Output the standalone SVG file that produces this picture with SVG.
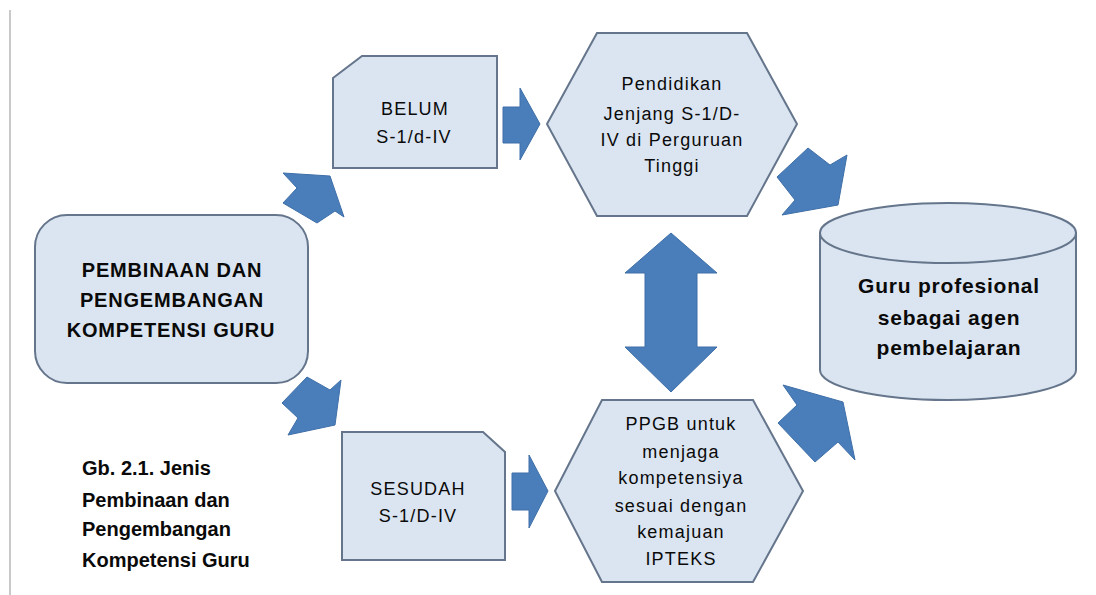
<svg xmlns="http://www.w3.org/2000/svg" width="1096" height="595" viewBox="0 0 1096 595">
  <style>
    .shape { fill: #dbe5f1; stroke: #65758b; stroke-width: 2; }
    .arrow { fill: #4a7ebb; stroke: #3f6fa8; stroke-width: 1; }
    .t { font-family: "Liberation Sans", Arial, sans-serif; fill: #0a0a0a; }
    .big { font-size: 20px; font-weight: bold; letter-spacing: 0.8px; text-anchor: middle; }
    .mid { font-size: 18px; letter-spacing: 1.2px; text-anchor: middle; }
    .box { font-size: 18px; letter-spacing: 1.2px; text-anchor: middle; }
    .cap { font-size: 20px; font-weight: bold; }
  </style>

  <rect width="1096" height="595" fill="#ffffff"/>
  <!-- page margin rule -->
  <line x1="10" y1="10" x2="10" y2="595" stroke="#c9c9c9" stroke-width="2"/>

  <g id="connectors">
    <polygon class="arrow" points="283,173 330,176 344,217 335,211 317,223 283,203 297,188"/>
    <polygon class="arrow" points="307,377 330,390 341,380 335,425 288,435 298,418 282,403"/>
    <polygon class="arrow" points="503,107 520,107 520,88 540,124 520,160 520,143 503,143"/>
    <polygon class="arrow" points="512,473 529,473 529,455 548,491 529,528 529,510 512,510"/>
    <polygon class="arrow" points="808,148 830,165 847,155 838,205 782,215 795,200 777,177"/>
    <polygon class="arrow" points="783,385 843,402 855,460 838,442 815,462 778,423 797,405"/>
    <polygon class="arrow" points="671,233 717,273 697,273 697,347 717,347 671,392 625,347 645,347 645,273 625,273"/>
  </g>

  <g id="node-pembinaan">
    <rect class="shape" x="35" y="215" width="273" height="168" rx="32" ry="32"/>
    <text class="t big" x="172" y="277">PEMBINAAN DAN</text>
    <text class="t big" x="172" y="307">PENGEMBANGAN</text>
    <text class="t big" x="171" y="337">KOMPETENSI GURU</text>
  </g>

  <g id="node-belum">
    <polygon class="shape" points="333,78 362,56 497,56 497,168 333,168"/>
    <text class="t box" x="415" y="115">BELUM</text>
    <text class="t box" x="414" y="143">S-1/d-IV</text>
  </g>

  <g id="node-sesudah">
    <polygon class="shape" points="342,432 483,432 505,452 505,560 342,560"/>
    <text class="t box" x="418" y="495">SESUDAH</text>
    <text class="t box" x="418" y="522">S-1/D-IV</text>
  </g>

  <g id="node-pendidikan">
    <polygon class="shape" points="547,124 597,33 747,33 797,124 747,216 597,216"/>
    <text class="t mid" x="672" y="90">Pendidikan</text>
    <text class="t mid" x="672" y="120">Jenjang S-1/D-</text>
    <text class="t mid" x="672" y="146">IV di Perguruan</text>
    <text class="t mid" x="672" y="172">Tinggi</text>
  </g>

  <g id="node-ppgb">
    <polygon class="shape" points="555,491 602,400 753,400 803,491 753,582 602,582"/>
    <text class="t mid" x="681" y="430">PPGB untuk</text>
    <text class="t mid" x="681" y="458">menjaga</text>
    <text class="t mid" x="681" y="484">kompetensiya</text>
    <text class="t mid" x="681" y="512">sesuai dengan</text>
    <text class="t mid" x="681" y="538">kemajuan</text>
    <text class="t mid" x="681" y="565">IPTEKS</text>
  </g>

  <g id="node-guru">
    <path class="shape" d="M820,233 L820,370 A128,30 0 0 0 1076,370 L1076,233 Z"/>
    <ellipse class="shape" cx="948" cy="233" rx="128" ry="30"/>
    <text class="t big" x="949" y="293" style="font-size:21px">Guru profesional</text>
    <text class="t big" x="949" y="325" style="font-size:21px">sebagai agen</text>
    <text class="t big" x="949" y="355" style="font-size:21px">pembelajaran</text>
  </g>

  <g id="caption">
    <text class="t cap" x="82" y="475">Gb. 2.1. Jenis</text>
    <text class="t cap" x="82" y="507">Pembinaan dan</text>
    <text class="t cap" x="82" y="536">Pengembangan</text>
    <text class="t cap" x="82" y="567">Kompetensi Guru</text>
  </g>
</svg>
